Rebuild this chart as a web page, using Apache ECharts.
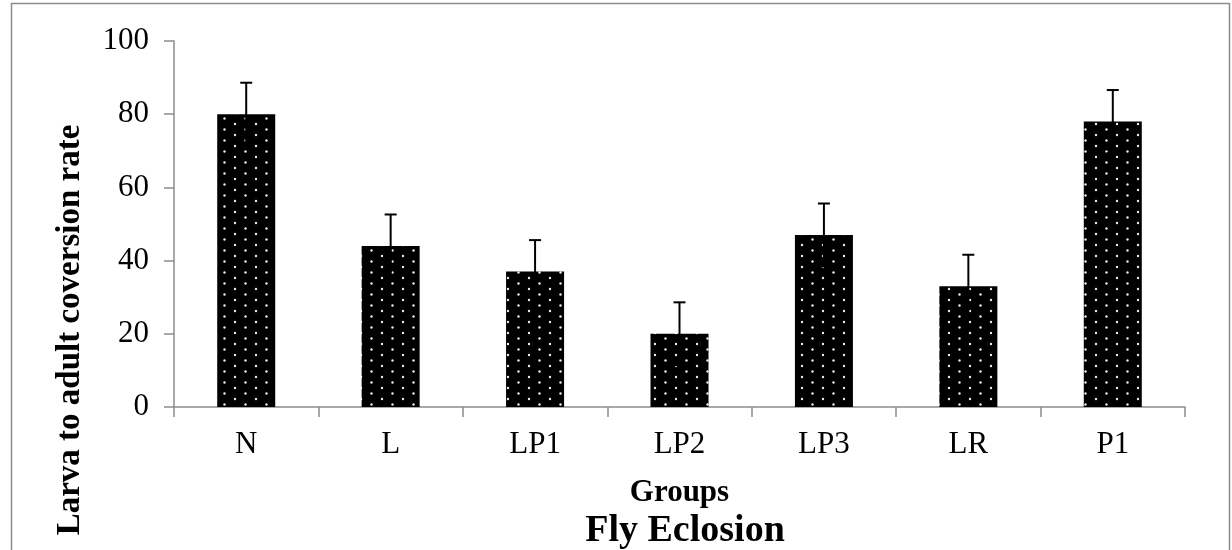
<!DOCTYPE html>
<html>
<head>
<meta charset="utf-8">
<script src="https://cdn.jsdelivr.net/npm/echarts@6/dist/echarts.min.js"></script>
<style>html,body{margin:0;padding:0;background:#fff;}#c{width:1232px;height:550px;}</style>
</head>
<body>
<div id="c"></div>
<script>
var categories = ['N', 'L', 'LP1', 'LP2', 'LP3', 'LR', 'P1'];
var values = [80, 44, 37, 20, 47, 33, 78];
var errors = [8.6, 8.6, 8.6, 8.6, 8.6, 8.6, 8.6];
var yTicks = [0, 20, 40, 60, 80, 100];

// dotted pattern: black with small light dots, staggered rows
var tile = document.createElement('canvas');
tile.width = 21; tile.height = 11;
var ctx = tile.getContext('2d');
ctx.fillStyle = '#000';
ctx.fillRect(0, 0, 21, 11);
ctx.fillStyle = '#ececec';
function dot(x, y) { ctx.beginPath(); ctx.arc(x, y, 1.2, 0, Math.PI * 2); ctx.fill(); }
dot(4, 3); dot(14.5, 8.5);

var chart = echarts.init(document.getElementById('c'), null, { renderer: 'canvas' });
var FONT = '"Liberation Serif", "Times New Roman", serif';

var errData = values.map(function (v, i) { return [i, v - errors[i], v + errors[i]]; });

chart.setOption({
  animation: false,
  backgroundColor: '#fff',
  title: {
    text: 'Fly Eclosion',
    left: 680, top: 507, textAlign: 'center',
    textStyle: { fontFamily: FONT, fontSize: 38, fontWeight: 'bold', color: '#000' }
  },
  grid: { left: 174, right: 47, top: 41, bottom: 143 },
  xAxis: {
    type: 'category',
    data: categories,
    name: 'Groups',
    nameLocation: 'middle',
    nameGap: 70,
    nameTextStyle: { fontFamily: FONT, fontSize: 31, fontWeight: 'bold', color: '#000' },
    axisLine: { lineStyle: { color: '#8c8c8c', width: 1.5 } },
    axisTick: { show: true, length: 10, lineStyle: { color: '#8c8c8c', width: 1.5 } },
    axisLabel: { fontFamily: FONT, fontSize: 31, color: '#000', margin: 22 }
  },
  yAxis: {
    type: 'value',
    min: yTicks[0], max: yTicks[yTicks.length - 1], interval: 20,
    splitLine: { show: false },
    axisLine: { show: true, lineStyle: { color: '#8c8c8c', width: 1.5 } },
    axisTick: { show: true, length: 10, lineStyle: { color: '#8c8c8c', width: 1.5 } },
    axisLabel: { fontFamily: FONT, fontSize: 31, color: '#000', margin: 25 }
  },
  series: [
    {
      type: 'bar',
      data: values,
      barWidth: 58,
      itemStyle: { color: { image: tile, repeat: 'repeat' } }
    },
    {
      type: 'custom',
      data: errData,
      z: 10,
      renderItem: function (params, api) {
        var x = api.coord([api.value(0), 0])[0];
        var lo = api.coord([api.value(0), api.value(1)])[1];
        var hi = api.coord([api.value(0), api.value(2)])[1];
        var style = { stroke: '#000', lineWidth: 2 };
        return {
          type: 'group',
          children: [
            { type: 'line', shape: { x1: x, y1: lo, x2: x, y2: hi }, style: style },
            { type: 'line', shape: { x1: x - 6, y1: hi, x2: x + 6, y2: hi }, style: style },
            { type: 'line', shape: { x1: x - 6, y1: lo, x2: x + 6, y2: lo }, style: style }
          ]
        };
      }
    }
  ],
  graphic: [
    {
      type: 'rect', silent: true, z: -1,
      shape: { x: 11.5, y: 3.5, width: 1218, height: 600 },
      style: { fill: null, stroke: '#8c8c8c', lineWidth: 1.5 }
    },
    {
      type: 'text',
      x: 70, y: 330, rotation: Math.PI / 2,
      style: {
        text: 'Larva to adult coversion rate',
        fontFamily: FONT, fontSize: 33, fontWeight: 'bold', fill: '#000',
        textAlign: 'center', textVerticalAlign: 'middle'
      }
    }
  ]
});
</script>
</body>
</html>
